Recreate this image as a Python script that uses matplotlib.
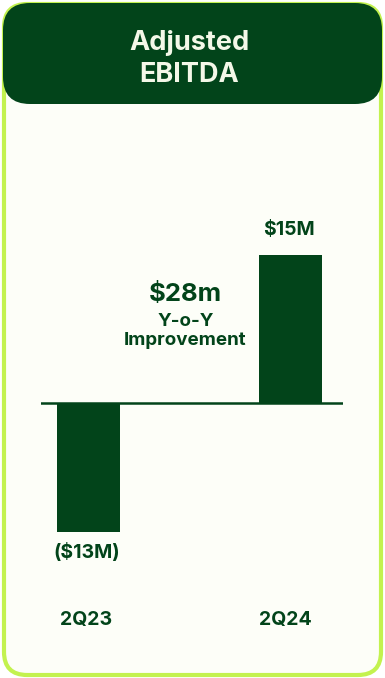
import matplotlib.pyplot as plt
from matplotlib.patches import FancyBboxPatch

# Adjusted EBITDA, $M
periods = ["2Q23", "2Q24"]
ebitda = [-13, 15]
value_labels = ["($13M)", "$15M"]
improvement = "$28m"

DARK = "#02441a"
LIME = "#c3f24f"
BG = "#fdfef8"

W, H = 385, 678
fig = plt.figure(figsize=(W / 100, H / 100), dpi=100)
fig.patch.set_facecolor("white")
plt.rcParams["font.family"] = ["Inter", "DejaVu Sans"]

# card outline and header
card = FancyBboxPatch((4 / W, 3 / H), 377 / W, 671 / H,
                      boxstyle="round,pad=0,rounding_size=0.06",
                      transform=fig.transFigure, facecolor=BG,
                      edgecolor=LIME, linewidth=3, mutation_aspect=W / H,
                      zorder=-2)
fig.patches.append(card)
head = FancyBboxPatch((3 / W, (H - 104) / H), 379 / W, 101 / H,
                      boxstyle="round,pad=0,rounding_size=0.07",
                      transform=fig.transFigure, facecolor=DARK,
                      edgecolor="none", mutation_aspect=W / H, zorder=-1)
fig.patches.append(head)
fig.text(189 / W, 1 - 59 / H, "Adjusted\nEBITDA", ha="center", va="center",
         color="#f4f8e8", fontsize=19.5, fontweight="bold", linespacing=1.25)

# bar area: 202 px between bars, 9.9 px per $M
px_x = 202
px_y = 9.9
left, right = 41, 343
base = H - 403
ax = fig.add_axes([left / W, (base - 20 * px_y) / H, (right - left) / W, 45 * px_y / H])
ax.set_xlim(-47.5 / px_x, (right - left - 47.5) / px_x)
ax.set_ylim(-20, 25)
ax.axis("off")

xs = range(len(periods))
ax.bar(xs, ebitda, width=63 / px_x, color=DARK, zorder=2)
ax.axhline(0, color=DARK, linewidth=1.8, zorder=3)

for x, v, lab in zip(xs, ebitda, value_labels):
    off = 2.5 if v > 0 else -2.1
    ax.text(x - 0.01, v + off, lab, ha="center", va="center", color=DARK,
            fontsize=14, fontweight="bold")
    ax.text(x - 0.015 * x - 0.01, -21.9, periods[x], ha="center", va="center",
            color=DARK, fontsize=14, fontweight="bold", clip_on=False)

ax.text(0.48, 11.0, improvement, ha="center", va="center", color=DARK,
        fontsize=18.5, fontweight="bold")
ax.text(0.48, 7.3, "Y-o-Y\nImprovement", ha="center", va="center", color=DARK,
        fontsize=13.5, fontweight="bold", linespacing=1.15)

fig.savefig("out.png", dpi=100, facecolor=fig.get_facecolor())
